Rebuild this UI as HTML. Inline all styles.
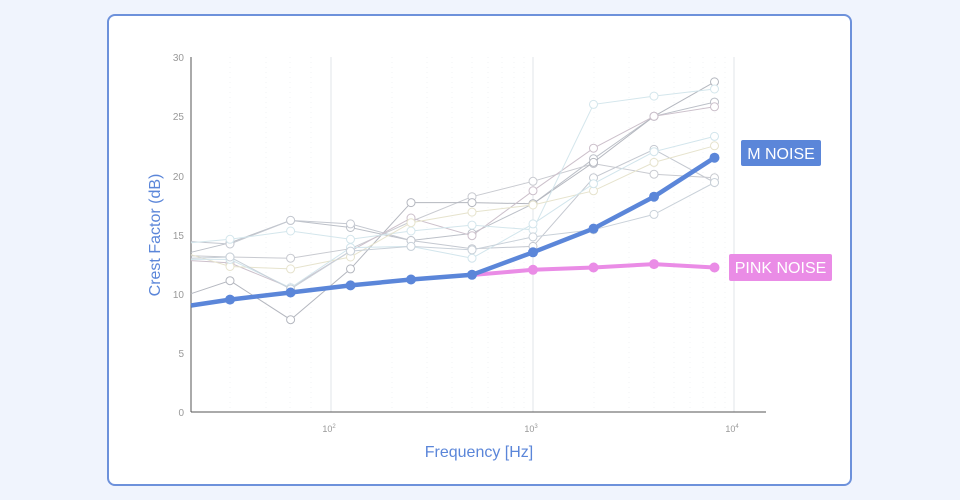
<!DOCTYPE html>
<html><head><meta charset="utf-8"><style>
html,body{margin:0;padding:0;background:#f0f4fd;width:960px;height:500px;overflow:hidden;font-family:"Liberation Sans",sans-serif}
.card{position:absolute;left:107px;top:14px;width:741px;height:468px;background:#fff;border:2px solid #6d91db;border-radius:8px}
</style></head><body>
<div class="card"></div>
<svg width="960" height="500" style="position:absolute;left:0;top:0" font-family="Liberation Sans, sans-serif">
<g stroke="#f2f3f6" stroke-width="1" stroke-dasharray="1,4">
<line x1="230" y1="57" x2="230" y2="412"/><line x1="266" y1="57" x2="266" y2="412"/><line x1="290" y1="57" x2="290" y2="412"/><line x1="311" y1="57" x2="311" y2="412"/>
<line x1="392" y1="57" x2="392" y2="412"/><line x1="427" y1="57" x2="427" y2="412"/><line x1="452" y1="57" x2="452" y2="412"/><line x1="472" y1="57" x2="472" y2="412"/><line x1="488" y1="57" x2="488" y2="412"/><line x1="502" y1="57" x2="502" y2="412"/><line x1="514" y1="57" x2="514" y2="412"/><line x1="524" y1="57" x2="524" y2="412"/>
<line x1="594" y1="57" x2="594" y2="412"/><line x1="629" y1="57" x2="629" y2="412"/><line x1="654" y1="57" x2="654" y2="412"/><line x1="674" y1="57" x2="674" y2="412"/><line x1="690" y1="57" x2="690" y2="412"/><line x1="703" y1="57" x2="703" y2="412"/><line x1="715" y1="57" x2="715" y2="412"/><line x1="725" y1="57" x2="725" y2="412"/>
</g>
<g stroke="#e2e4e8" stroke-width="1">
<line x1="331" y1="57" x2="331" y2="412"/><line x1="533" y1="57" x2="533" y2="412"/><line x1="734" y1="57" x2="734" y2="412"/>
</g>
<line x1="191" y1="412" x2="766" y2="412" stroke="#555" stroke-width="1"/>
<line x1="191" y1="57" x2="191" y2="412" stroke="#555" stroke-width="1"/>
<g font-size="10" fill="#999" text-anchor="end">
<text x="184" y="416">0</text><text x="184" y="357">5</text><text x="184" y="298">10</text><text x="184" y="239">15</text><text x="184" y="180">20</text><text x="184" y="120">25</text><text x="184" y="61">30</text>
</g>
<g font-size="9" fill="#999" text-anchor="middle">
<text x="329" y="432">10<tspan dy="-4" font-size="6">2</tspan></text>
<text x="531" y="432">10<tspan dy="-4" font-size="6">3</tspan></text>
<text x="732" y="432">10<tspan dy="-4" font-size="6">4</tspan></text>
</g>
<text x="479" y="457" font-size="16" fill="#5b86d9" text-anchor="middle">Frequency [Hz]</text>
<text transform="translate(160,235) rotate(-90)" font-size="16" fill="#5b86d9" text-anchor="middle">Crest Factor (dB)</text>
<g id="grey" fill="#fff" stroke-width="1"></g>
<polyline points="472,275 533,269.8 593.5,267.5 654,264.1 714.5,267.5" fill="none" stroke="#ea8ce6" stroke-width="4"/>
<g fill="#ea8ce6"><circle cx="533" cy="269.8" r="5"/><circle cx="593.5" cy="267.5" r="5"/><circle cx="654" cy="264.1" r="5"/><circle cx="714.5" cy="267.5" r="5"/></g>
<polyline points="191,305.5 230,299.6 290.6,292.5 350.5,285.4 411,279.5 472,274.8 533,252.3 593.5,228.6 654,196.7 714.5,157.7" fill="none" stroke="#5b86d9" stroke-width="4.5"/>
<g fill="#5b86d9"><circle cx="230" cy="299.6" r="5"/><circle cx="290.6" cy="292.5" r="5"/><circle cx="350.5" cy="285.4" r="5"/><circle cx="411" cy="279.5" r="5"/><circle cx="472" cy="274.8" r="5"/><circle cx="533" cy="252.3" r="5"/><circle cx="593.5" cy="228.6" r="5"/><circle cx="654" cy="196.7" r="5"/><circle cx="714.5" cy="157.7" r="5"/></g>
<rect x="741" y="140" width="80" height="26" fill="#5b86d9" rx="2"/>
<text x="781" y="159" font-size="16" fill="#fff" text-anchor="middle">M NOISE</text>
<rect x="729" y="254" width="103" height="27" fill="#ea8ce6" rx="2"/>
<text x="780.5" y="273" font-size="16" fill="#fff" text-anchor="middle">PINK NOISE</text>
</svg>
<script>
var xs=[191,230,290.6,350.5,411,472,533,593.5,654,714.5];
var S=[
["#bcc0c8",[13.5,14.3,16.2,15.6,14.5,15.1,17.6,21.4,25.0,26.2]],
["#c4c8d0",[14.4,14.2,16.2,15.9,14.5,13.8,14.0,19.8,22.2,19.4]],
["#c8cad0",[13.2,13.1,13.0,13.8,16.1,18.2,19.5,21.0,20.1,19.8]],
["#b4b7bf",[10.0,11.1,7.8,12.1,17.7,17.7,17.6,21.1,25.0,27.9]],
["#ccc0cb",[12.8,12.6,10.5,13.6,16.4,14.9,18.7,22.3,25.0,25.8]],
["#d4e6ec",[14.3,14.6,15.3,14.6,15.3,15.8,15.4,26.0,26.7,27.3]],
["#e6e3cd",[13.3,12.3,12.1,13.1,16.0,16.9,17.5,18.7,21.1,22.5]],
["#d2e5ec",[12.9,12.9,10.5,13.9,14.0,13.0,15.9,19.3,22.0,23.3]],
["#c9d1d9",[13.0,13.1,10.4,13.6,14.0,13.7,14.8,15.4,16.7,19.4]]];
var g=document.getElementById("grey"),h="";
S.forEach(function(s){var p=s[1].map(function(v,i){return xs[i]+","+(412-11.83*v).toFixed(1)}).join(" ");
h+='<polyline points="'+p+'" fill="none" stroke="'+s[0]+'"/>';
for(var i=1;i<10;i++)h+='<circle cx="'+xs[i]+'" cy="'+(412-11.83*s[1][i]).toFixed(1)+'" r="4" stroke="'+s[0]+'"/>';});
g.innerHTML=h;
</script>
</body></html>
